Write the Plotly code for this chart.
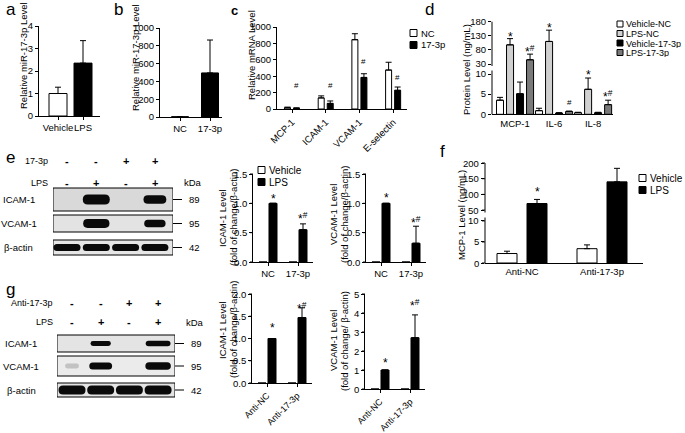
import plotly.graph_objects as go

W, H = 685, 433
FONT = "Liberation Sans, Arial, sans-serif"

# ---------------- data ----------------
a_cats = ["Vehicle", "LPS"]
a_vals = [1.0, 2.35]
a_err = [0.28, 1.0]
a_sig = ["", "*"]
a_sig_y = [0, 4.05]
a_yticks = [0, 1, 2, 3, 4]
b_cats = ["NC", "17-3p"]
b_vals = [3, 495]
b_err = [0, 370]
b_sig = ["", "*"]
b_sig_y = [0, 1030]
b_yticks = [0, 200, 400, 600, 800, 1000]
c_genes = ["MCP-1", "ICAM-1", "VCAM-1", "E-selectin"]
c_series = ["NC", "17-3p"]
c_nc = [15, 135, 845, 475]
c_nc_err = [8, 25, 73, 95]
c_p17 = [9, 68, 385, 228]
c_p17_err = [5, 30, 45, 40]
c_sig = ["#", "#", "#", "#"]
c_sig_y = [283, 292, 575, 388]
c_yticks = [0, 200, 400, 600, 800, 1000]
d_groups = ["MCP-1", "IL-6", "IL-8"]
d_series = ["Vehicle-NC", "LPS-NC", "Vehicle-17-3p", "LPS-17-3p"]
d_vals = [[3.5, 0.9, 0.4], [98, 110, 6.2], [5.1, 0.3, 0.4], [45, 0.7, 2.4]]
d_errs = [[0.7, 0.6, 0.1], [22, 40, 2.8], [2.9, 0.1, 0.1], [20, 0.1, 1.1]]
d_sigs = [["", "", ""], ["*", "*", "*"], ["", "", ""], ["*#", "#", "*#"]]
d_sig_y = [[0, 0, 0], [137, 170, 10.6], [0, 0, 0], [85, 3.0, 5.4]]
d_upper_ticks = [30, 80, 130, 180]
d_lower_ticks = [0, 5, 10]
e_cats = ["NC", "17-3p"]
e_series = ["Vehicle", "LPS"]
e_icam_veh = [0, 0]
e_icam_lps = [1.0, 0.55]
e_icam_err = [0, 0.1]
e_icam_sig = ["*", "*#"]
e_icam_sig_y = [1.12, 0.8]
e_vcam_veh = [0, 0]
e_vcam_lps = [1.0, 0.32]
e_vcam_err = [0, 0.29]
e_vcam_sig = ["*", "*#"]
e_vcam_sig_y = [1.14, 0.74]
e_yticks = [0, 0.5, 1.0, 1.5]
e_yticktext = ["0.0", "0.5", "1.0", "1.5"]
e_row_17 = ["-", "-", "+", "+"]
e_row_lps = ["-", "+", "-", "+"]
e_blot_rows = ["ICAM-1", "VCAM-1", "β-actin"]
e_bands = [[0, 1.0, 0, 0.72], [0, 0.95, 0, 0.62], [1.0, 1.0, 1.0, 1.0]]
e_kda = ["89", "95", "42"]
f_cats = ["Anti-NC", "Anti-17-3p"]
f_series = ["Vehicle", "LPS"]
f_veh = [2.25, 3.4]
f_veh_err = [0.55, 0.9]
f_lps = [71, 140]
f_lps_err = [13, 43]
f_sig = ["*", "*#"]
f_sig_y = [116, 203]
f_upper_ticks = [50, 100, 150, 200]
f_lower_ticks = [0, 5, 10]
g_cats = ["Anti-NC", "Anti-17-3p"]
g_icam_veh = [0, 0]
g_icam_lps = [1.0, 1.47]
g_icam_err = [0, 0.22]
g_icam_sig = ["*", "*#"]
g_icam_sig_y = [1.3, 1.76]
g_icam_ticks = [0, 0.5, 1.0, 1.5, 2.0]
g_icam_ticktext = ["0.0", "0.5", "1.0", "1.5", "2.0"]
g_vcam_veh = [0, 0]
g_vcam_lps = [1.0, 2.7]
g_vcam_err = [0, 1.2]
g_vcam_sig = ["*", "*#"]
g_vcam_sig_y = [1.55, 4.6]
g_vcam_ticks = [0, 1, 2, 3, 4, 5]
g_row_anti = ["-", "-", "+", "+"]
g_row_lps = ["-", "+", "-", "+"]
g_blot_rows = ["ICAM-1", "VCAM-1", "β-actin"]
g_bands = [[0, 0.55, 0, 0.85], [0.12, 0.72, 0, 0.9], [1.0, 1.0, 1.0, 1.0]]
g_kda = ["89", "95", "42"]

# ---------------- helpers ----------------
layout = dict(template="none", width=W, height=H, margin=dict(l=0, r=0, t=0, b=0, pad=0),
              autosize=False, paper_bgcolor="white", plot_bgcolor="rgba(0,0,0,0)",
              showlegend=False, barmode="overlay",
              font=dict(family=FONT, size=9.5, color="black"))
shapes = []
annots = []
fig = go.Figure()


def sfx(n):
    return "" if n == 1 else str(n)


def txt(x, y, s, size=9.5, xanchor="center", yanchor="middle", angle=0, xref="paper",
        yref="paper", bold=False, yshift=0, height=None):
    if xref == "paper":
        x = x / W
    if yref == "paper":
        y = 1 - y / H
    d = dict(x=x, y=y, text=("<b>%s</b>" % s) if bold else s, xref=xref, yref=yref,
             showarrow=False, xanchor=xanchor, yanchor=yanchor, textangle=angle, yshift=yshift,
             font=dict(size=size, family=FONT, color="black"))
    if height is not None:
        d["height"] = height
        d["borderpad"] = 0
    annots.append(d)


def line_px(x0, y0, x1, y1, lw=1):
    shapes.append(dict(type="line", xref="paper", yref="paper", x0=x0 / W, x1=x1 / W,
                       y0=1 - y0 / H, y1=1 - y1 / H, line=dict(color="black", width=lw),
                       layer="above"))


def add_axes(n, xpx, ypx, xr, yr, xtv=None, xtt=None, ytv=None, ytt=None, xangle=0,
             yline=True, xvisible=True, xfont=9.5, yfont=9.5, ann_labels=False):
    s = sfx(n)
    ytext = ytt if ytt is not None else [str(v) for v in ytv]
    xa = dict(domain=[xpx[0] / W, xpx[1] / W], range=xr, anchor="y" + s, automargin=False,
              showgrid=False, zeroline=False, showline=True, linecolor="black", linewidth=1,
              ticks="outside" if xtv is not None else "", ticklen=3, tickwidth=1,
              tickcolor="black", tickvals=xtv, ticktext=xtt, tickangle=xangle,
              tickfont=dict(size=xfont, color="black"), visible=xvisible,
              ticklabeloverflow="allow")
    ya = dict(domain=[1 - ypx[1] / H, 1 - ypx[0] / H], range=yr, anchor="x" + s,
              automargin=False, showgrid=False, zeroline=False, showline=yline,
              linecolor="black", linewidth=1, ticks="outside", ticklen=3, tickwidth=1,
              tickcolor="black", tickmode="array", tickvals=ytv, ticktext=ytext,
              tickfont=dict(size=yfont, color="black"), ticklabeloverflow="allow",
              showticklabels=not ann_labels)
    layout["xaxis" + s] = xa
    layout["yaxis" + s] = ya
    if ann_labels:
        # tick labels written at the positions of this axis' linear scale
        top, bot = ypx
        lo, hi = yr
        for v, t in zip(ytv, ytext):
            yp = bot - (v - lo) / (hi - lo) * (bot - top)
            txt(xpx[0] - 4, yp, t, size=yfont, xanchor="right")
            line_px(xpx[0] - 3, yp, xpx[0], yp)


def bar(n, x, y, err, color, offset=None, width=None):
    s = sfx(n)
    errd = None
    if err is not None:
        errd = dict(type="data", array=err, arrayminus=[0] * len(err), symmetric=False,
                    color="black", thickness=1, width=3)
    fig.add_trace(go.Bar(x=x, y=y, offset=offset, width=width, error_y=errd,
                         marker=dict(color=color, line=dict(color="black", width=1)),
                         xaxis="x" + s, yaxis="y" + s, hoverinfo="skip"))


def sig(n, x, y, s):
    if not s:
        return
    sx = sfx(n)
    if s == "#":
        t, size, shift = "#", 8, 0
    else:
        t, size, shift = s.replace("#", "<sup>#</sup>"), 12, -3
    txt(x, y, t, size=size, xref="x" + sx, yref="y" + sx, yshift=shift)


def rect_px(x0, y0, x1, y1, fill="white", line="black", lw=1):
    shapes.append(dict(type="rect", xref="paper", yref="paper", x0=x0 / W, x1=x1 / W,
                       y0=1 - y1 / H, y1=1 - y0 / H, fillcolor=fill,
                       line=dict(color=line, width=lw), layer="above"))


def legend(x, ys, labels, colors, box=7, size=9.5, height=None):
    for yy, lab, col in zip(ys, labels, colors):
        rect_px(x, yy - box / 2, x + box, yy + box / 2, fill=col)
        txt(x + box + 2, yy, lab, size=size, xanchor="left", height=height)


def title2(x1, x2, y, l1, l2):
    txt(x1, y, l1, angle=-90)
    txt(x2, y, l2, angle=-90)


# ---------------- panel a ----------------
add_axes(1, (39, 100), (26, 116), [-0.76, 1.68], [0, 4], xtv=[0, 1], xtt=a_cats, ytv=a_yticks)
bar(1, [0, 1], a_vals, a_err, ["white", "black"], width=0.72)
for i in range(2):
    sig(1, i, a_sig_y[i], a_sig[i])
txt(24, 56, "Relative miR-17-3p Level", angle=-90)
txt(4, 9, "a", size=17, xanchor="left")

# ---------------- panel b ----------------
add_axes(2, (160, 222), (28, 117), [-0.667, 1.4], [0, 1000], xtv=[0, 1], xtt=b_cats, ytv=b_yticks)
bar(2, [0, 1], b_vals, b_err, ["black", "black"], width=0.567)
for i in range(2):
    sig(2, i, b_sig_y[i], b_sig[i])
txt(135, 58, "Relative miR-17-3p Level", angle=-90)
txt(112, 9, "b", size=17, xanchor="left")

# ---------------- panel c ----------------
cx = list(range(len(c_genes)))
add_axes(3, (277, 407), (27, 109), [-0.445, 3.412], [0, 1000], xtv=cx, xtt=c_genes,
         ytv=c_yticks, xangle=-45)
bar(3, cx, c_nc, c_nc_err, "white", offset=-0.223, width=0.178)
bar(3, cx, c_p17, c_p17_err, "black", offset=0.045, width=0.178)
for i in cx:
    sig(3, i + 0.134, c_sig_y[i], c_sig[i])
txt(252, 55, "Relative mRNA Level", angle=-90)
txt(229, 11, "c", size=13, xanchor="left", bold=True)
legend(410, [33, 45], c_series, ["white", "black"])

# ---------------- panel d (broken axis) ----------------
dx = list(range(len(d_groups)))
d_colors = ["white", "#d0d0d0", "black", "#7a7a7a"]
d_off = [-0.385, -0.128, 0.128, 0.385]
d_w = 0.18
add_axes(4, (492, 613), (21.7, 69), [-0.59, 2.51], [12.3, 180], ytv=d_upper_ticks,
         yline=False, xvisible=False)
add_axes(5, (492, 613), (69, 114.3), [-0.59, 2.51], [0, 11.24], xtv=dx, xtt=d_groups,
         ytv=d_lower_ticks, yline=False)
layout["xaxis5"]["ticks"] = ""
for k in range(4):
    for n in (4, 5):
        bar(n, dx, d_vals[k], d_errs[k], d_colors[k], offset=d_off[k] - d_w / 2, width=d_w)
    for i in dx:
        if d_sigs[k][i]:
            sig(4 if d_sig_y[k][i] > 12.3 else 5, i + d_off[k], d_sig_y[k][i], d_sigs[k][i])
line_px(492, 21.7, 492, 66)
line_px(492, 70.5, 492, 114.3)
txt(467, 70, "Protein Level (ng/mL)", angle=-90)
txt(423, 9, "d", size=17, xanchor="left")
legend(617, [24, 33.5, 43, 52.5], d_series, d_colors, box=6, size=9, height=9)

# ---------------- panel e charts ----------------
ex = [0, 1]
add_axes(6, (253, 313), (174, 262), [-0.5, 1.5], [0, 1.5], xtv=ex, xtt=e_cats, ytv=e_yticks,
         ytt=e_yticktext, ann_labels=True)
bar(6, ex, e_icam_veh, None, "white", offset=-0.3, width=0.267)
bar(6, ex, e_icam_lps, e_icam_err, "black", offset=0.033, width=0.267)
for i in ex:
    sig(6, i + 0.167, e_icam_sig_y[i], e_icam_sig[i])
title2(222, 233, 218, "ICAM-1 Level", "(fold of change/β-actin)")
legend(258, [170, 182], e_series, ["white", "black"], box=7, size=10)

add_axes(7, (366, 426), (174, 262), [-0.5, 1.5], [0, 1.5], xtv=ex, xtt=e_cats, ytv=e_yticks,
         ytt=e_yticktext, ann_labels=True)
bar(7, ex, e_vcam_veh, None, "white", offset=-0.3, width=0.267)
bar(7, ex, e_vcam_lps, e_vcam_err, "black", offset=0.033, width=0.267)
for i in ex:
    sig(7, i + 0.167, e_vcam_sig_y[i], e_vcam_sig[i])
title2(333, 344, 215, "VCAM-1 Level", "(fold of change/β-actin)")

# ---------------- panel f (broken axis) ----------------
fx = [0, 1]
add_axes(8, (485, 643), (163, 215), [-0.4625, 1.5125], [34.4, 200], ytv=f_upper_ticks,
         yline=False, xvisible=False, ann_labels=True)
add_axes(9, (485, 643), (215, 263), [-0.4625, 1.5125], [0, 11.4], xtv=fx, xtt=f_cats,
         ytv=f_lower_ticks, yline=False, ann_labels=True)
layout["xaxis9"]["ticks"] = ""
for n in (8, 9):
    bar(n, fx, f_veh, f_veh_err, "white", offset=-0.3125, width=0.25)
    bar(n, fx, f_lps, f_lps_err, "black", offset=0.0625, width=0.25)
for i in fx:
    sig(8, i + 0.1875, f_sig_y[i], f_sig[i])
line_px(485, 163, 485, 212.5)
line_px(485, 217.5, 485, 263)
txt(461, 215, "MCP-1 Level (ng/mL)", angle=-90)
txt(438, 152, "f", size=17, xanchor="left")
legend(639, [178, 190], f_series, ["white", "black"], box=7, size=10)

# ---------------- panel g charts ----------------
gx = [0, 1]
add_axes(10, (252, 312), (294, 383), [-0.5, 1.5], [0, 2], xtv=gx, xtt=g_cats, ytv=g_icam_ticks,
         ytt=g_icam_ticktext, xangle=-45, xfont=9, ann_labels=True)
bar(10, gx, g_icam_veh, None, "white", offset=-0.3, width=0.267)
bar(10, gx, g_icam_lps, g_icam_err, "black", offset=0.033, width=0.267)
for i in gx:
    sig(10, i + 0.167, g_icam_sig_y[i], g_icam_sig[i])
title2(222, 233, 330, "ICAM-1 Level", "(fold of change/β-actin)")

add_axes(11, (365, 425), (294, 389), [-0.5, 1.5], [0, 5], xtv=gx, xtt=g_cats, ytv=g_vcam_ticks,
         xangle=-45, xfont=9, ann_labels=True)
bar(11, gx, g_vcam_veh, None, "white", offset=-0.3, width=0.267)
bar(11, gx, g_vcam_lps, g_vcam_err, "black", offset=0.033, width=0.267)
for i in gx:
    sig(11, i + 0.167, g_vcam_sig_y[i], g_vcam_sig[i])
title2(333, 344, 341, "VCAM-1 Level", "(fold of change/ β-actin)")


# ---------------- western blots ----------------
def band_path(xc, yc, w, h, lane_px):
    r = min(h / 2, w * lane_px / 2)
    rx = r / lane_px
    xl, xr = xc - w / 2, xc + w / 2
    yt, yb = yc - h / 2, yc + h / 2
    return (f"M {xl+rx},{yt} L {xr-rx},{yt} Q {xr},{yt} {xr},{yc} Q {xr},{yb} {xr-rx},{yb} "
            f"L {xl+rx},{yb} Q {xl},{yb} {xl},{yc} Q {xl},{yt} {xl+rx},{yt} Z")


def blot(n, box_x, box_y, lane_px, lane1_px, rows_y, rows_h, band_h, fills, bands, names, kda,
         name_x, top_labels, top_rows, top_y, kda_y):
    s = sfx(n)
    lo = 1 - (lane1_px - box_x[0]) / lane_px
    hi = 1 + (box_x[1] - lane1_px) / lane_px
    layout["xaxis" + s] = dict(domain=[box_x[0] / W, box_x[1] / W], range=[lo, hi],
                               anchor="y" + s, visible=False, automargin=False)
    layout["yaxis" + s] = dict(domain=[1 - box_y[1] / H, 1 - box_y[0] / H],
                               range=[box_y[1], box_y[0]], anchor="x" + s, visible=False,
                               automargin=False)
    fig.add_trace(go.Scatter(x=[lo], y=[box_y[0]], xaxis="x" + s, yaxis="y" + s,
                             mode="markers", marker=dict(opacity=0), hoverinfo="skip"))
    for r, (yc, bh) in enumerate(zip(rows_y, rows_h)):
        shapes.append(dict(type="rect", xref="x" + s, yref="y" + s, x0=lo, x1=hi,
                           y0=yc - bh / 2, y1=yc + bh / 2, fillcolor=fills[r],
                           line=dict(color="black", width=1), layer="above"))
        for L, inten in enumerate(bands[r]):
            if inten <= 0:
                continue
            w = 27 * (0.45 + 0.55 * inten) / lane_px
            h = band_h[r] * (0.55 + 0.45 * inten)
            op = 1.0 if inten >= 0.4 else inten * 1.5
            shapes.append(dict(type="path", xref="x" + s, yref="y" + s,
                               path=band_path(L + 1, yc, w, h, lane_px),
                               fillcolor=f"rgba(10,10,10,{op})", line=dict(width=0),
                               layer="above"))
        txt(name_x, yc, names[r], size=9.5)
        line_px(box_x[1], yc, box_x[1] + 9, yc)
        txt(box_x[1] + 14, yc, kda[r], size=9.5, xanchor="left")
    for (lab, lab_x), row, yy in zip(top_labels, top_rows, top_y):
        txt(lab_x, yy, lab, size=9, xanchor="right")
        for L, sgn in enumerate(row):
            txt(L + 1, yy, sgn, size=11, xref="x" + s, yref="paper", bold=True)
    txt(box_x[1] + 9, kda_y, "kDa", size=9.5, xanchor="left")


blot(12, (53, 173), (186, 257), 29.3, 67, [199.5, 223.5, 247.5], [23, 17, 15], [10, 9, 7],
     ["#d9d9d9", "#e3e3e3", "#e6e6e6"], e_bands, e_blot_rows, e_kda, 18.5,
     [("17-3p", 50), ("LPS", 50)], [e_row_17, e_row_lps], [161, 183], 183)
blot(13, (57, 175), (333, 399), 28.7, 72, [343.5, 366, 390], [17, 20, 14], [6, 8, 9],
     ["#e4e4e4", "#ebebeb", "#e4e4e4"], g_bands, g_blot_rows, g_kda, 21,
     [("Anti-17-3p", 55), ("LPS", 55)], [g_row_anti, g_row_lps], [303, 322], 322)
txt(4, 157, "e", size=17, xanchor="left")
txt(4, 289, "g", size=17, xanchor="left")

layout["shapes"] = shapes
layout["annotations"] = annots
fig.update_layout(**layout)
fig.write_html("out.html", config={"displayModeBar": False},
               post_script="document.body.style.margin='0';document.body.style.overflow='hidden';")
